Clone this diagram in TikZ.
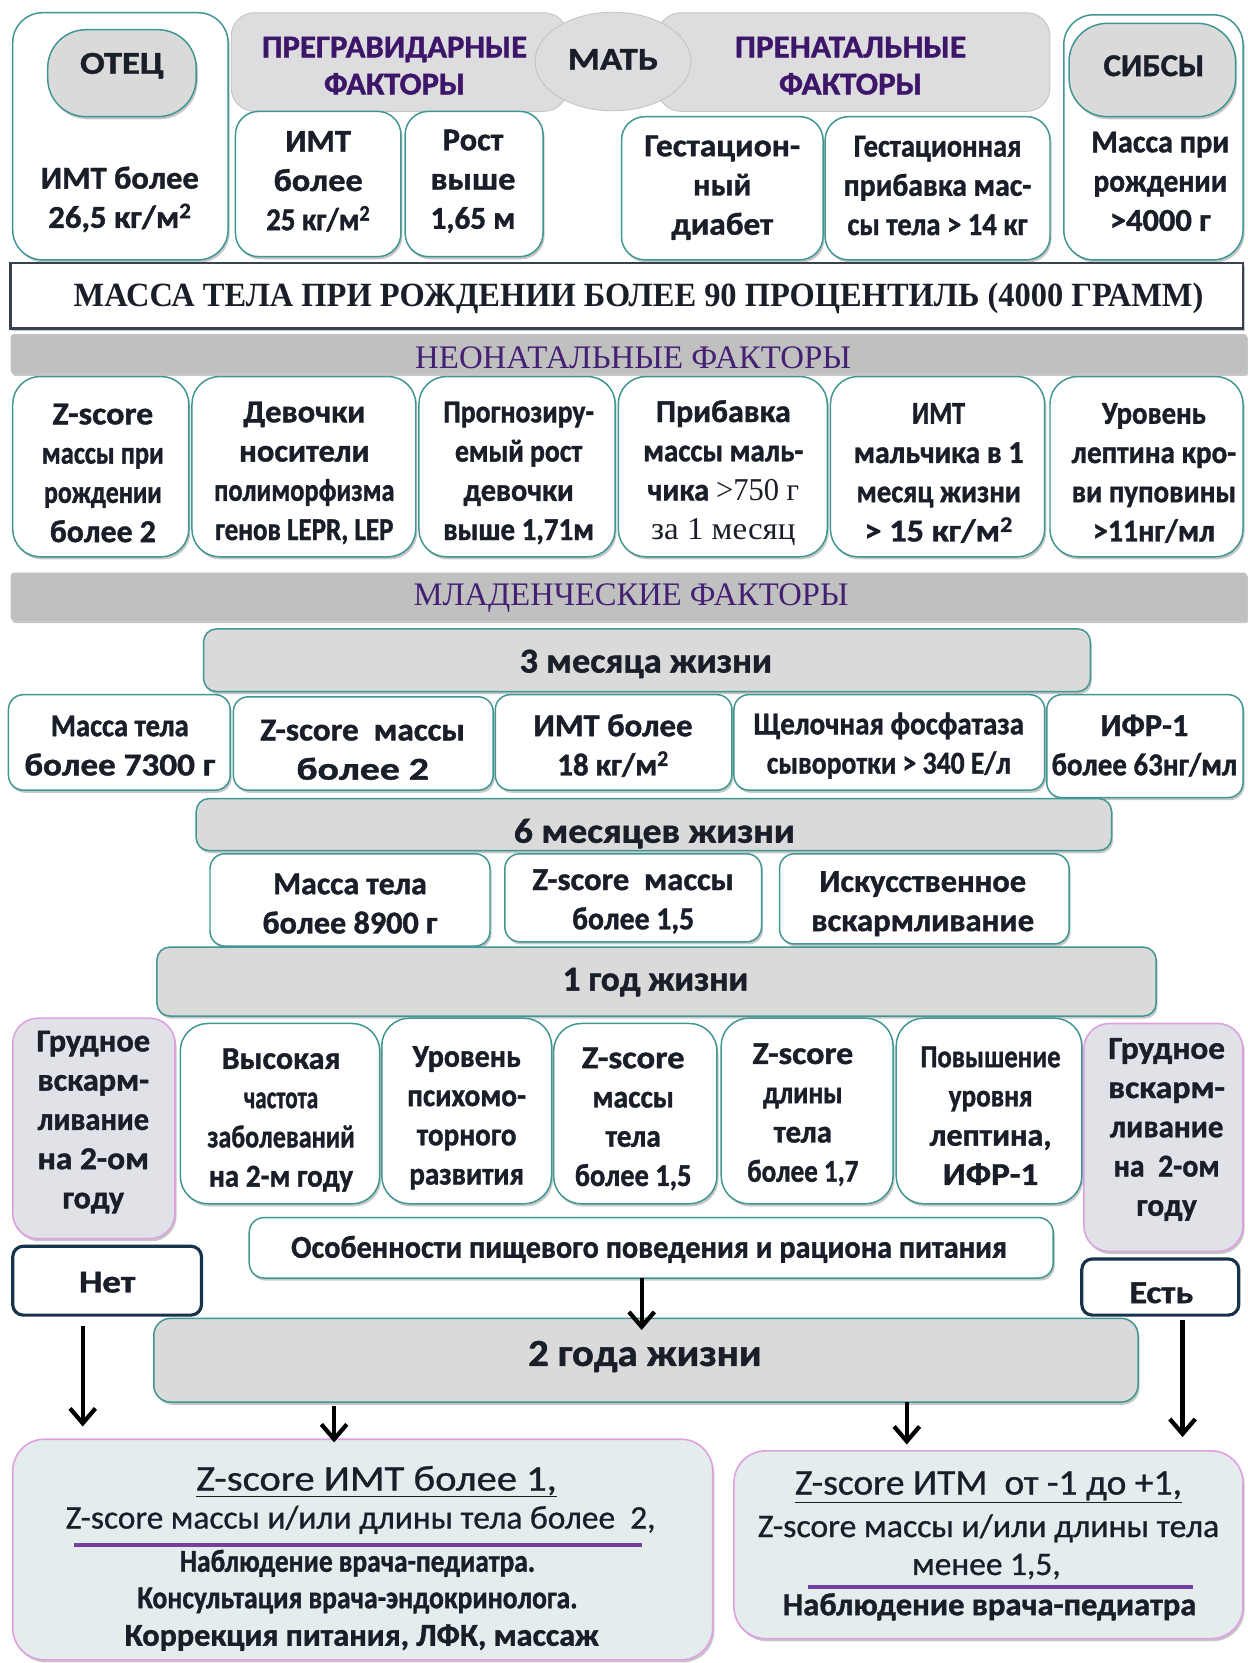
\documentclass[tikz,border=0pt]{standalone}
\usepackage{fontspec}
\setmainfont{Carlito}[BoldFeatures={FakeBold=1.2}]
\newfontfamily\medf{Carlito}[FakeBold=0.8]
\newfontfamily\serf{Liberation Serif}
\usetikzlibrary{fit,shapes.geometric,arrows.meta,shadows}
\newcommand\fw[2]{\resizebox{#1pt}{\height}{#2}}
\newcommand\mf{\bfseries\fontsize{30}{37}\selectfont}
\newcommand\bigf{\bfseries\fontsize{33}{37}\selectfont}
% box with separate text node: style, fit points, name, text position, text
\newcommand\bx[5]{\node[#1,fit={#2}] (#3) {};\node[base] (#3t) at #4 {#5};}
\definecolor{txt}{RGB}{25,30,40}
\definecolor{tealc}{RGB}{64,150,146}
\definecolor{grayf}{RGB}{218,218,218}
\definecolor{hbanf}{RGB}{221,221,223}
\definecolor{hbanb}{RGB}{195,195,198}
\definecolor{banf}{RGB}{192,192,192}
\definecolor{pinkc}{RGB}{222,160,222}
\definecolor{pinkf}{RGB}{224,226,232}
\definecolor{resf}{RGB}{228,236,238}
\definecolor{navy}{RGB}{25,50,75}
\definecolor{massb}{RGB}{55,65,80}
\definecolor{purp}{RGB}{62,22,105}
\definecolor{purp2}{RGB}{68,32,115}
\definecolor{purpl}{RGB}{115,65,155}
\begin{document}
\begin{tikzpicture}[x=1pt,y=-1pt,
 shd/.style={drop shadow={shadow xshift=1.5pt,shadow yshift=-2.5pt,opacity=0.22,fill=black}},
 base/.style={inner sep=0pt,outer sep=0pt,align=center,text=txt,font=\mf},
 wbox/.style={base,draw=tealc,line width=1.4pt,fill=white,rounded corners=22pt,shd},
 gbox/.style={wbox,fill=grayf},
 pbox/.style={base,draw=pinkc,line width=1.5pt,fill=pinkf,rounded corners=24pt,shd},
 rbox/.style={pbox,fill=resf,rounded corners=30pt},
 nbox/.style={base,draw=navy,line width=3pt,fill=white,rounded corners=10pt},
 hban/.style={base,draw=hbanb,line width=0.8pt,fill=hbanf,rounded corners=22pt},
 sban/.style={base,fill=banf,rounded corners=3pt,shd},
 htxt/.style={base,text=purp,font=\bfseries\fontsize{30}{35}\selectfont},
 stxt/.style={base,text=purp2,font=\serf\fontsize{31}{35}\selectfont},
 rtxt/.style={base,font=\medf\fontsize{31}{37}\selectfont},
 arr/.style={draw=black,line width=4pt,-{Straight Barb[length=14pt,width=24pt]}},
 pline/.style={line width=4pt,purpl},
]
\useasboundingbox (0,0) rectangle (1176,1568);
\fill[white] (0,0) rectangle (1176,1568);

% ---------- top ----------
\node[hban,fit={(218,12)(535,105)}] (pregr) {};
\node[htxt] (pregrt) at (372,62) {\fw{250}{ПРЕГРАВИДАРНЫЕ}\\\fw{133}{ФАКТОРЫ}};
\node[hban,fit={(620,12)(990,105)}] (pren) {};
\node[htxt] (prent) at (802,62) {\fw{218}{ПРЕНАТАЛЬНЫЕ}\\\fw{135}{ФАКТОРЫ}};
\node[hban,ellipse,minimum width=147pt,minimum height=93pt] (mat) at (578,58) {};
\node[base] (matt) at (578,56) {\fw{85}{МАТЬ}};

\node[wbox,rounded corners=28pt,fit={(12,12)(215,245)}] (otec) {};
\bx{gbox,rounded corners=36pt}{(45,28)(185,110)}{otecl}{(115,62)}{\fw{79}{ОТЕЦ}}
\node[base] (otect) at (113,188) {\fw{149}{ИМТ более}\\\fw{135}{26,5 кг/м\textsuperscript{2}}};

\bx{wbox}{(222,105)(378,242)}{imt}{(300,171)}{\fw{62}{ИМТ}\\\fw{84}{более}\\\fw{98}{25 кг/м\textsuperscript{2}}}
\bx{wbox}{(382,105)(512,242)}{rost}{(446,171)}{\fw{57}{Рост}\\\fw{80}{выше}\\\fw{80}{1,65 м}}
\bx{wbox}{(586,110)(776,245)}{gestd}{(681,177)}{\fw{147}{Гестацион-}\\\fw{55}{ный}\\\fw{96}{диабет}}
\bx{wbox}{(778,110)(990,245)}{gestp}{(884,175)}{\fw{158}{Гестационная}\\\fw{177}{прибавка мас-}\\\fw{170}{сы тела > 14 кг}}

\node[wbox,rounded corners=28pt,fit={(1003,14)(1172,245)}] (sibs) {};
\bx{gbox,rounded corners=36pt}{(1008,22)(1165,110)}{sibsl}{(1088,62)}{\fw{95}{СИБСЫ}}
\node[base] (sibst) at (1094,171) {\fw{130}{Масса при}\\\fw{126}{рождении}\\\fw{95}{>4000 г}};

% ---------- birth mass ----------
\node[base,draw=massb,line width=2.5pt,fill=white,shd,fit={(10,248)(1172,310)}] (mass) {};
\node[base,font=\serf\bfseries\fontsize{32}{36}\selectfont] (masst) at (602,281) {\fw{1065}{МАССА ТЕЛА ПРИ РОЖДЕНИИ БОЛЕЕ 90 ПРОЦЕНТИЛЬ (4000 ГРАММ)}};

% ---------- neonatal ----------
\node[sban,fit={(10,315)(1176,352)}] (neo) {};
\node[stxt] (neot) at (597,337) {\fw{411}{НЕОНАТАЛЬНЫЕ ФАКТОРЫ}};

\bx{wbox,rounded corners=26pt}{(12,355)(178,525)}{n1}{(97,446)}{\fw{95}{Z-score}\\\fw{115}{массы при}\\\fw{111}{рождении}\\\fw{100}{более 2}}
\bx{wbox,rounded corners=26pt}{(181,355)(392,525)}{n2}{(287,446)}{\fw{115}{Девочки}\\\fw{123}{носители}\\\fw{170}{полиморфизма}\\\fw{168}{генов LEPR, LEP}}
\bx{wbox,rounded corners=26pt}{(395,355)(580,525)}{n3}{(489,446)}{\fw{142}{Прогнозиру-}\\\fw{120}{емый рост}\\\fw{104}{девочки}\\\fw{142}{выше 1,71м}}
\bx{wbox,rounded corners=26pt}{(583,355)(780,525)}{n4}{(682,446)}{\fw{127}{Прибавка}\\\fw{151}{массы маль-}\\\fw{143}{чика {\serf\mdseries >750 г}}\\\fw{136}{\serf\mdseries за 1 месяц}}
\bx{wbox,rounded corners=26pt}{(783,355)(985,525)}{n5}{(885,446)}{\fw{50}{ИМТ}\\\fw{160}{мальчика в 1}\\\fw{155}{месяц жизни}\\\fw{140}{> 15 кг/м\textsuperscript{2}}}
\bx{wbox,rounded corners=26pt}{(990,355)(1172,525)}{n6}{(1088,446)}{\fw{98}{Уровень}\\\fw{155}{лептина кро-}\\\fw{155}{ви пуповины}\\\fw{115}{>11нг/мл}}

% ---------- infant ----------
\node[sban,fit={(10,540)(1176,585)}] (mlad) {};
\node[stxt] (mladt) at (595,564) {\fw{410}{МЛАДЕНЧЕСКИЕ ФАКТОРЫ}};

\bx{gbox,rounded corners=12pt}{(192,593)(1028,652)}{m3}{(609,626)}{\bigf\fw{238}{3 месяца жизни}}
\bx{wbox,rounded corners=14pt}{(8,655)(217,745)}{r5a}{(113,703)}{\fw{130}{Масса тела}\\\fw{180}{более 7300 г}}
\bx{wbox,rounded corners=14pt}{(220,657)(465,745)}{r5b}{(342,707)}{\fw{193}{Z-score~ массы}\\\fw{125}{более 2}}
\bx{wbox,rounded corners=14pt}{(467,655)(690,745)}{r5c}{(578,703)}{\fw{150}{ИМТ более}\\\fw{105}{18 кг/м\textsuperscript{2}}}
\bx{wbox,rounded corners=14pt}{(692,655)(985,745)}{r5d}{(838,703)}{\fw{255}{Щелочная фосфатаза}\\\fw{230}{сыворотки > 340 Е/л}}
\bx{wbox,rounded corners=14pt}{(987,655)(1172,752)}{r5e}{(1079,703)}{\fw{83}{ИФР-1}\\\fw{175}{более 63нг/мл}}

\bx{gbox,rounded corners=12pt}{(185,753)(1048,802)}{m6}{(617,786)}{\bigf\fw{265}{6 месяцев жизни}}
\bx{wbox,rounded corners=14pt}{(198,805)(462,892)}{r6a}{(330,852)}{\fw{145}{Масса тела}\\\fw{165}{более 8900 г}}
\bx{wbox,rounded corners=14pt}{(476,805)(718,888)}{r6b}{(597,850)}{\fw{190}{Z-score~ массы}\\\fw{115}{более 1,5}}
\bx{wbox,rounded corners=14pt}{(735,805)(1008,890)}{r6c}{(870,852)}{\fw{195}{Искусственное}\\\fw{210}{вскармливание}}

\bx{gbox,rounded corners=12pt}{(148,893)(1090,958)}{y1}{(618,926)}{\bigf\fw{175}{1 год жизни}}

% ---------- row 7 ----------
\bx{pbox}{(12,960)(165,1168)}{lp}{(88,1058)}{\fw{107}{Грудное}\\\fw{105}{вскарм-}\\\fw{105}{ливание}\\\fw{105}{на 2-ом}\\\fw{58}{году}}
\bx{wbox,rounded corners=26pt}{(170,965)(358,1135)}{r7a}{(265,1056)}{\fw{112}{Высокая}\\\fw{70}{частота}\\\fw{139}{заболеваний}\\\fw{136}{на 2-м году}}
\bx{wbox,rounded corners=26pt}{(360,960)(520,1135)}{r7b}{(440,1054)}{\fw{102}{Уровень}\\\fw{112}{психомо-}\\\fw{94}{торного}\\\fw{108}{развития}}
\bx{wbox,rounded corners=26pt}{(522,965)(676,1135)}{r7c}{(597,1055)}{\fw{97}{Z-score}\\\fw{77}{массы}\\\fw{52}{тела}\\\fw{110}{более 1,5}}
\bx{wbox,rounded corners=26pt}{(680,960)(842,1135)}{r7d}{(757,1051)}{\fw{95}{Z-score}\\\fw{75}{длины}\\\fw{55}{тела}\\\fw{105}{более 1,7}}
\bx{wbox,rounded corners=26pt}{(845,960)(1020,1135)}{r7e}{(934,1052)}{\fw{132}{Повышение}\\\fw{79}{уровня}\\\fw{115}{лептина,}\\\fw{90}{ИФР-1}}
\bx{pbox}{(1022,965)(1172,1180)}{rp}{(1100,1065)}{\fw{110}{Грудное}\\\fw{110}{вскарм-}\\\fw{107}{ливание}\\\fw{100}{на~ 2-ом}\\\fw{57}{году}}

\bx{wbox,rounded corners=14pt}{(235,1148)(993,1205)}{oso}{(612,1178)}{\fw{675}{Особенности пищевого поведения и рациона питания}}
\bx{nbox}{(12,1175)(190,1240)}{net}{(101,1209)}{\fw{53}{Нет}}
\bx{nbox}{(1020,1187)(1168,1240)}{est}{(1095,1219)}{\fw{60}{Есть}}

\bx{gbox,rounded corners=16pt}{(145,1243)(1073,1322)}{y2}{(608,1279)}{\bfseries\fontsize{36}{40}\selectfont\fw{220}{2 года жизни}}

% ---------- results ----------
\node[rbox,fit={(12,1357)(672,1565)}] (resl) {};
\node[rtxt,font=\medf\fontsize{34}{38}\selectfont] (l1) at (355,1397) {\underline{\fw{340}{Z-score ИМТ более 1,}}};
\node[rtxt] (l2) at (340,1433) {\fw{556}{Z-score массы и/или длины тела более~ 2,}};
\node[base] (l3) at (337,1474) {\fw{335}{Наблюдение врача-педиатра.}};
\node[base] (l4) at (337,1509) {\fw{415}{Консультация врача-эндокринолога.}};
\node[base] (l5) at (341,1544) {\fw{447}{Коррекция питания, ЛФК, массаж}};
\coordinate (pl1a) at (70,1457);
\coordinate (pl1b) at (605,1457);
\draw[pline] (pl1a) -- (pl1b);

\node[rbox,fit={(692,1368)(1172,1545)}] (resr) {};
\node[rtxt,font=\medf\fontsize{34}{38}\selectfont] (q1) at (932,1402) {\underline{\fw{365}{Z-score ИТМ~ от -1 до +1,}}};
\node[rtxt] (q2) at (932,1441) {\fw{435}{Z-score массы и/или длины тела}};
\node[rtxt] (q3) at (930,1477) {\fw{140}{менее 1,5,}};
\node[base] (q4) at (933,1515) {\fw{390}{Наблюдение врача-педиатра}};
\coordinate (pl2a) at (762,1496);
\coordinate (pl2b) at (1125,1496);
\draw[pline] (pl2a) -- (pl2b);

% ---------- arrows ----------
\coordinate (ea) at (605,1254);
\coordinate (eb) at (78,1345);
\coordinate (ec) at (315,1360);
\coordinate (ed) at (855,1362);
\coordinate (ee) at (1115,1355);
\draw[arr] (oso.south -| ea) -- (ea);
\draw[arr,shorten <=10pt] (net.south -| eb) -- (eb);
\draw[arr,shorten <=4pt] (y2.south -| ec) -- (ec);
\draw[arr] (y2.south -| ed) -- (ed);
\draw[arr,shorten <=5pt] (est.south -| ee) -- (ee);
\end{tikzpicture}
\end{document}
